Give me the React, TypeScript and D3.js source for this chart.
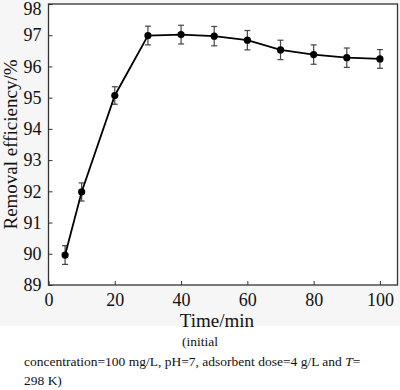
import React, { useEffect, useRef } from 'react';
import * as d3 from 'd3';

const times = [5, 10, 20, 30, 40, 50, 60, 70, 80, 90, 100];
const removal = [89.96, 91.98, 95.07, 96.99, 97.02, 96.97, 96.84, 96.53, 96.38, 96.28, 96.24];
const errors = [0.3, 0.29, 0.28, 0.3, 0.3, 0.31, 0.31, 0.31, 0.31, 0.31, 0.3];
const xTicks = [0, 20, 40, 60, 80, 100];
const yTicks = [89, 90, 91, 92, 93, 94, 95, 96, 97, 98];

const W = 400;
const H = 390;
const left = 48.5;
const right = 397.5;
const top = 4;
const bottom = 285;
const font = '"Liberation Serif", "Times New Roman", serif';

export default function App() {
  const ref = useRef<SVGSVGElement>(null);

  useEffect(() => {
    const svg = d3.select(ref.current);
    svg.selectAll('*').remove();

    const x = d3.scaleLinear().domain([0, 105.3]).range([left, right]);
    const y = d3.scaleLinear().domain([89, 98]).range([bottom, top]);

    // grey figure background, white plot
    svg.append('rect').attr('width', W).attr('height', 326).attr('fill', '#f6f6f6');
    svg.append('rect').attr('y', 326).attr('width', W).attr('height', H - 326).attr('fill', '#fff');
    svg.append('rect')
      .attr('x', left).attr('y', top)
      .attr('width', right - left).attr('height', bottom - top)
      .attr('fill', '#fff').attr('stroke', '#333').attr('stroke-width', 1.3);

    const xAxis = svg.append('g')
      .attr('transform', `translate(0,${bottom})`)
      .call(d3.axisBottom(x).tickValues(xTicks).tickSizeInner(-4).tickSizeOuter(0).tickPadding(8));
    xAxis.select('.domain').remove();
    xAxis.selectAll('line').attr('stroke', '#333');
    xAxis.attr('font-family', null).attr('font-size', null);
    xAxis.selectAll('text').style('font-family', font).style('font-size', '18px').attr('fill', '#111');

    const yAxis = svg.append('g')
      .attr('transform', `translate(${left},0)`)
      .call(d3.axisLeft(y).tickValues(yTicks).tickSizeInner(-4).tickSizeOuter(0).tickPadding(7));
    yAxis.select('.domain').remove();
    yAxis.selectAll('line').attr('stroke', '#333');
    yAxis.attr('font-family', null).attr('font-size', null);
    yAxis.selectAll('text').style('font-family', font).style('font-size', '18px').attr('fill', '#111');
    // top label sits at the edge; nudge it so it stays readable
    yAxis.selectAll<SVGTextElement, number>('text').filter(d => d === 98).attr('y', 5);

    const pts = times.map((t, i) => ({ t, v: removal[i], e: errors[i] }));

    const bars = svg.append('g').attr('stroke', '#444').attr('stroke-width', 1.2);
    pts.forEach(d => {
      const cx = x(d.t);
      bars.append('line').attr('x1', cx).attr('x2', cx).attr('y1', y(d.v - d.e)).attr('y2', y(d.v + d.e));
      bars.append('line').attr('x1', cx - 3).attr('x2', cx + 3).attr('y1', y(d.v - d.e)).attr('y2', y(d.v - d.e));
      bars.append('line').attr('x1', cx - 3).attr('x2', cx + 3).attr('y1', y(d.v + d.e)).attr('y2', y(d.v + d.e));
    });

    const line = d3.line<{ t: number; v: number }>().x(d => x(d.t)).y(d => y(d.v));
    svg.append('path')
      .attr('d', line(pts))
      .attr('fill', 'none')
      .attr('stroke', '#000')
      .attr('stroke-width', 1.8);

    svg.append('g').selectAll('circle')
      .data(pts)
      .enter()
      .append('circle')
      .attr('cx', d => x(d.t))
      .attr('cy', d => y(d.v))
      .attr('r', 3.6)
      .attr('fill', '#000');

    svg.append('text')
      .attr('x', 217).attr('y', 327)
      .attr('text-anchor', 'middle')
      .style('font-family', font).style('font-size', '19px').attr('fill', '#111')
      .text('Time/min');

    svg.append('text')
      .attr('transform', `translate(17,${(top + bottom) / 2}) rotate(-90)`)
      .attr('text-anchor', 'middle')
      .style('font-family', font).style('font-size', '19px').attr('fill', '#111')
      .text('Removal efficiency/%');

    const cap = svg.append('g').style('font-family', font).style('font-size', '13.5px').attr('fill', '#111');
    cap.append('text').attr('x', 200).attr('y', 346).attr('text-anchor', 'middle').text('(initial');
    const l2 = cap.append('text').attr('x', 24).attr('y', 366);
    l2.append('tspan').text('concentration=100 mg/L, pH=7, adsorbent dose=4 g/L and ');
    l2.append('tspan').attr('font-style', 'italic').text('T');
    l2.append('tspan').text('=');
    cap.append('text').attr('x', 24).attr('y', 385).text('298 K)');
  }, []);

  return <svg ref={ref} width={W} height={H} style={{ position: 'absolute', left: 0, top: 0 }} />;
}
